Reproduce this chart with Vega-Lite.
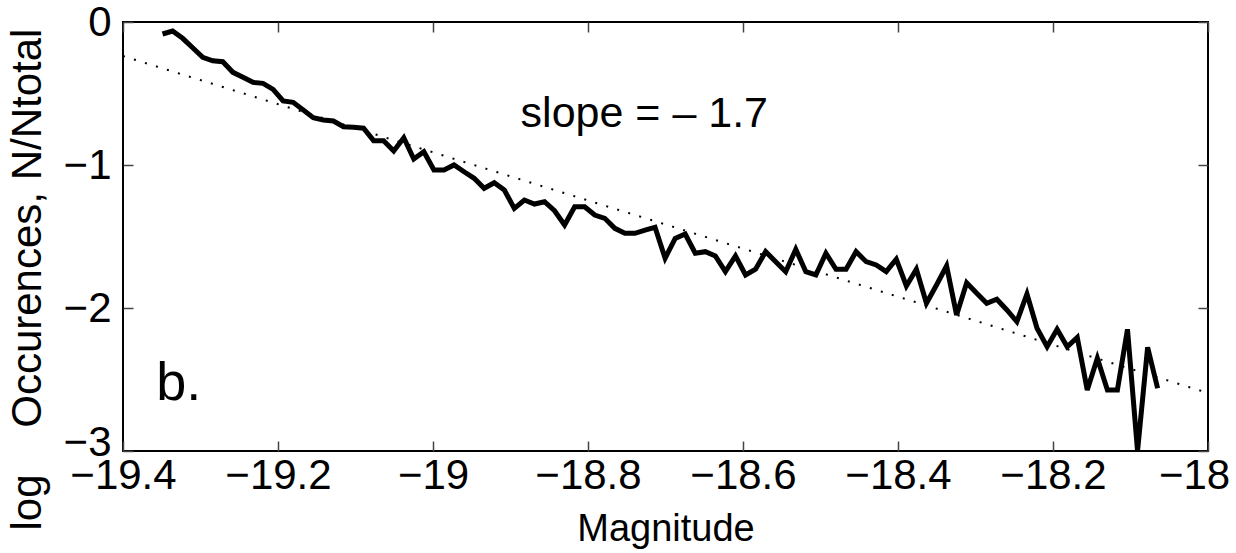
{
  "$schema": "https://vega.github.io/schema/vega-lite/v6.json",
  "width": 1085,
  "height": 429,
  "autosize": {"type": "none"},
  "padding": {"left": 123, "top": 22, "right": 28, "bottom": 102},
  "background": "white",
  "view": {"stroke": "black", "strokeWidth": 2},
  "config": {
    "font": "Liberation Sans",
    "axis": {
      "grid": false,
      "domain": false,
      "offset": -10,
      "labelFont": "Liberation Sans",
      "labelFontSize": 42,
      "labelColor": "black",
      "titleFont": "Liberation Sans",
      "titleFontSize": 38,
      "titleFontWeight": "normal",
      "titleColor": "black",
      "tickColor": "#444",
      "tickWidth": 1.5,
      "tickSize": 10
    }
  },
  "resolve": {"axis": {"x": "independent", "y": "independent"}},
  "layer": [
    {
      "data": {"values": [
        {"m": -19.3490, "v": -0.084}, {"m": -19.3360, "v": -0.063}, {"m": -19.3231, "v": -0.114}, {"m": -19.3101, "v": -0.180},
        {"m": -19.2971, "v": -0.247}, {"m": -19.2842, "v": -0.271}, {"m": -19.2712, "v": -0.278}, {"m": -19.2582, "v": -0.352},
        {"m": -19.2452, "v": -0.387}, {"m": -19.2323, "v": -0.422}, {"m": -19.2193, "v": -0.429}, {"m": -19.2063, "v": -0.471},
        {"m": -19.1934, "v": -0.552}, {"m": -19.1804, "v": -0.562}, {"m": -19.1674, "v": -0.615}, {"m": -19.1545, "v": -0.669},
        {"m": -19.1415, "v": -0.685}, {"m": -19.1285, "v": -0.692}, {"m": -19.1155, "v": -0.732}, {"m": -19.1026, "v": -0.736},
        {"m": -19.0896, "v": -0.743}, {"m": -19.0766, "v": -0.830}, {"m": -19.0637, "v": -0.830}, {"m": -19.0507, "v": -0.902},
        {"m": -19.0377, "v": -0.809}, {"m": -19.0248, "v": -0.958}, {"m": -19.0118, "v": -0.907}, {"m": -18.9988, "v": -1.035},
        {"m": -18.9858, "v": -1.035}, {"m": -18.9729, "v": -1.000}, {"m": -18.9599, "v": -1.047}, {"m": -18.9469, "v": -1.093},
        {"m": -18.9340, "v": -1.163}, {"m": -18.9210, "v": -1.124}, {"m": -18.9080, "v": -1.175}, {"m": -18.8951, "v": -1.303},
        {"m": -18.8821, "v": -1.245}, {"m": -18.8691, "v": -1.273}, {"m": -18.8561, "v": -1.257}, {"m": -18.8432, "v": -1.320},
        {"m": -18.8302, "v": -1.420}, {"m": -18.8172, "v": -1.292}, {"m": -18.8043, "v": -1.292}, {"m": -18.7913, "v": -1.350},
        {"m": -18.7783, "v": -1.373}, {"m": -18.7654, "v": -1.443}, {"m": -18.7524, "v": -1.478}, {"m": -18.7394, "v": -1.478},
        {"m": -18.7264, "v": -1.455}, {"m": -18.7135, "v": -1.436}, {"m": -18.7005, "v": -1.652}, {"m": -18.6875, "v": -1.513},
        {"m": -18.6746, "v": -1.483}, {"m": -18.6616, "v": -1.617}, {"m": -18.6486, "v": -1.606}, {"m": -18.6357, "v": -1.636},
        {"m": -18.6227, "v": -1.746}, {"m": -18.6097, "v": -1.636}, {"m": -18.5967, "v": -1.769}, {"m": -18.5838, "v": -1.729},
        {"m": -18.5708, "v": -1.606}, {"m": -18.5578, "v": -1.676}, {"m": -18.5449, "v": -1.746}, {"m": -18.5319, "v": -1.590},
        {"m": -18.5189, "v": -1.746}, {"m": -18.5060, "v": -1.769}, {"m": -18.4930, "v": -1.617}, {"m": -18.4800, "v": -1.729},
        {"m": -18.4670, "v": -1.729}, {"m": -18.4541, "v": -1.606}, {"m": -18.4411, "v": -1.676}, {"m": -18.4281, "v": -1.699},
        {"m": -18.4152, "v": -1.746}, {"m": -18.4022, "v": -1.659}, {"m": -18.3892, "v": -1.846}, {"m": -18.3763, "v": -1.729},
        {"m": -18.3633, "v": -1.967}, {"m": -18.3503, "v": -1.839}, {"m": -18.3373, "v": -1.706}, {"m": -18.3244, "v": -2.049},
        {"m": -18.3114, "v": -1.823}, {"m": -18.2984, "v": -1.897}, {"m": -18.2855, "v": -1.967}, {"m": -18.2725, "v": -1.939},
        {"m": -18.2595, "v": -2.014}, {"m": -18.2466, "v": -2.096}, {"m": -18.2336, "v": -1.902}, {"m": -18.2206, "v": -2.142},
        {"m": -18.2076, "v": -2.271}, {"m": -18.1947, "v": -2.149}, {"m": -18.1817, "v": -2.271}, {"m": -18.1687, "v": -2.205},
        {"m": -18.1558, "v": -2.573}, {"m": -18.1428, "v": -2.352}, {"m": -18.1298, "v": -2.573}, {"m": -18.1169, "v": -2.573},
        {"m": -18.1039, "v": -2.149}, {"m": -18.0909, "v": -3.000}, {"m": -18.0779, "v": -2.275}, {"m": -18.0650, "v": -2.561}
      ]},
      "mark": {"type": "line", "color": "black", "strokeWidth": 5, "strokeJoin": "miter", "clip": true},
      "encoding": {
        "x": {"field": "m", "type": "quantitative",
              "scale": {"domain": [-19.4, -18], "nice": false, "zero": false},
              "axis": {"values": [-19.4, -19.2, -19, -18.8, -18.6, -18.4, -18.2, -18], "format": "~f",
                       "title": "Magnitude", "labelPadding": 4, "titlePadding": 14, "labelFlush": false, "labelOverlap": false,
                       "labelOffset": {"condition": {"test": "datum.value === -18", "value": -14}, "value": 0}}},
        "y": {"field": "v", "type": "quantitative",
              "scale": {"domain": [-3, 0], "nice": false, "zero": false},
              "axis": {"values": [-3, -2, -1, 0], "format": "~f",
                       "title": "log\u00a0\u00a0\u00a0\u00a0Occurences, N/Ntotal", "titleFontSize": 42,
                       "titleAngle": -90, "titleAlign": "left", "titleBaseline": "alphabetic",
                       "titleX": -93, "titleY": 508,
                       "labelPadding": 12, "labelFlush": false, "labelOverlap": false,
                       "labelOffset": {"condition": {"test": "datum.value === -3", "value": -9}, "value": 0}}}
      }
    },
    {
      "data": {"values": [{"m": -19.4, "v": -0.238}, {"m": -18, "v": -2.594}]},
      "mark": {"type": "line", "color": "black", "strokeWidth": 2, "strokeDash": [2, 9.5]},
      "encoding": {
        "x": {"field": "m", "type": "quantitative",
              "axis": {"orient": "top", "values": [-19.4, -19.2, -19, -18.8, -18.6, -18.4, -18.2, -18], "labels": false, "title": null}},
        "y": {"field": "v", "type": "quantitative",
              "axis": {"orient": "right", "values": [-3, -2, -1, 0], "labels": false, "title": null}}
      }
    },
    {
      "data": {"values": [{"m": -18.887, "v": -0.734, "t": "slope = – 1.7"}]},
      "mark": {"type": "text", "align": "left", "baseline": "alphabetic", "fontSize": 43, "font": "Liberation Sans", "color": "black"},
      "encoding": {
        "x": {"field": "m", "type": "quantitative", "axis": null},
        "y": {"field": "v", "type": "quantitative", "axis": null},
        "text": {"field": "t"}
      }
    },
    {
      "data": {"values": [{"m": -19.357, "v": -2.643, "t": "b."}]},
      "mark": {"type": "text", "align": "left", "baseline": "alphabetic", "fontSize": 54, "font": "Liberation Sans", "color": "black"},
      "encoding": {
        "x": {"field": "m", "type": "quantitative", "axis": null},
        "y": {"field": "v", "type": "quantitative", "axis": null},
        "text": {"field": "t"}
      }
    }
  ]
}
